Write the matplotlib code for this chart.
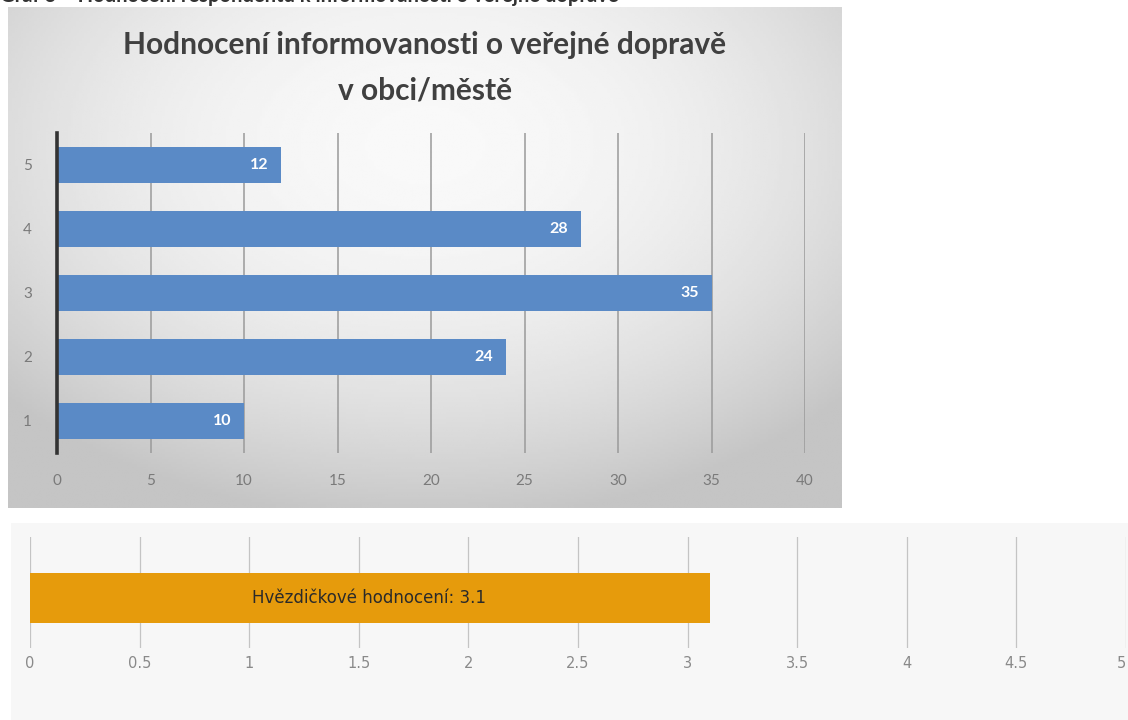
import numpy as np
import matplotlib.pyplot as plt

# data
ratings = [1, 2, 3, 4, 5]
counts = [10, 24, 35, 28, 12]
x_ticks = [0, 5, 10, 15, 20, 25, 30, 35, 40]
star_label = 'Hvězdičkové hodnocení'
star_value = 3.1
star_ticks = [0, 0.5, 1, 1.5, 2, 2.5, 3, 3.5, 4, 4.5, 5]
caption = 'Graf 3 – Hodnocení respondentů k informovanosti o veřejné dopravě'
title = 'Hodnocení informovanosti o veřejné dopravě\nv obci/městě'

W, H = 1128, 720
fig = plt.figure(figsize=(W/100, H/100), dpi=100)

def box(x0, y0, x1, y1):
    # pixel box -> figure fraction
    return [x0/W, 1 - y1/H, (x1-x0)/W, (y1-y0)/H]

# cut-off caption at the very top
fig.text(0.0, 1 - 6/H, caption, fontsize=14.5, fontweight='bold', color='#333333',
         family='Lato', ha='left', va='bottom')

# top panel background, radial grey gradient
bg = fig.add_axes(box(8, 7, 842, 508))
yy, xx = np.mgrid[-1:1:200j, -1:1:300j]
r = np.sqrt((xx*1.0)**2 + ((yy+0.45)*0.9)**2)
grad = np.clip(0.975 - 0.11*r**2, 0.77, 0.975)
bg.imshow(grad, cmap='gray', vmin=0, vmax=1, aspect='auto', extent=[0, 1, 0, 1])
bg.axis('off')

# bottom panel background
bg2 = fig.add_axes(box(11, 523, 1128, 720))
bg2.set_facecolor('#f7f7f7')
bg2.set_xticks([])
bg2.set_yticks([])
for s in bg2.spines.values():
    s.set_visible(False)

fig.text(425/W, 1 - 31/H, title, fontsize=21.5, fontweight='bold', color='#404040',
         family='Lato', ha='center', va='top', linespacing=1.75)

ax = fig.add_axes(box(57, 133, 805, 453))
ax.set_facecolor('none')
bars = ax.barh(ratings, counts, height=0.57, color='#5a8ac6', zorder=3)
for b, v in zip(bars, counts):
    ax.annotate(str(v), xy=(v, b.get_y() + b.get_height()/2), xytext=(-9, 0),
                textcoords='offset points', ha='right', va='center',
                color='white', fontweight='bold', fontsize=11.5, family='Lato', zorder=4)
ax.set_xlim(0, 40)
ax.set_ylim(0.5, 5.5)
ax.set_xticks(x_ticks)
ax.set_yticks(ratings)
ax.grid(axis='x', color='#9a9a9a', linewidth=1.1, zorder=0)
for s in ['top', 'right', 'bottom']:
    ax.spines[s].set_visible(False)
ax.spines['left'].set_linewidth(2.6)
ax.spines['left'].set_color('#333333')
ax.spines['left'].set_zorder(5)
ax.tick_params(axis='both', length=0, colors='#7a7a7a', labelsize=11)
ax.tick_params(axis='x', pad=15)
ax.tick_params(axis='y', pad=18)
for lab in ax.get_xticklabels() + ax.get_yticklabels():
    lab.set_family('Lato')

ax2 = fig.add_axes(box(30, 537, 1126, 648))
ax2.set_facecolor('none')
ax2.barh([0.45], [star_value], height=0.45, color='#e69b0c', zorder=3)
ax2.text(1.545, 0.45, f'{star_label}: {star_value}', ha='center', va='center',
         fontsize=12, color='#2a2a2a', family='DejaVu Sans', zorder=4)
ax2.set_xlim(0, 5)
ax2.set_ylim(0, 1)
ax2.set_xticks(star_ticks)
ax2.set_xticklabels([f'{t:g}' for t in star_ticks])
ax2.set_yticks([])
ax2.grid(axis='x', color='#c4c4c4', linewidth=0.9, zorder=0)
for s in ax2.spines.values():
    s.set_visible(False)
ax2.tick_params(axis='x', length=0, colors='#8a8a8a', labelsize=10.5, pad=6)
ax2.get_xticklabels()[-1].set_ha('right')

fig.savefig('out.png', dpi=100)
